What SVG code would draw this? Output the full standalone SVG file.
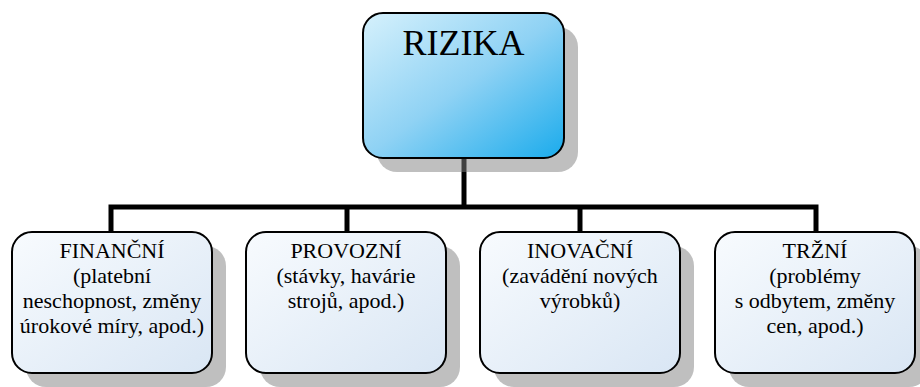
<svg xmlns="http://www.w3.org/2000/svg" width="920" height="387" viewBox="0 0 920 387">
<defs>
<linearGradient id="gTop" x1="0" y1="0" x2="1" y2="1">
<stop offset="0" stop-color="#d6f1fc"/>
<stop offset="0.5" stop-color="#8fd2f4"/>
<stop offset="1" stop-color="#1aabec"/>
</linearGradient>
<linearGradient id="gBox" x1="0" y1="0" x2="1" y2="1">
<stop offset="0" stop-color="#f8fbfe"/>
<stop offset="1" stop-color="#d9e6f4"/>
</linearGradient>
</defs>
<style>
.sh{fill:#808080;fill-opacity:0.5}
.box{fill:url(#gBox);stroke:#000;stroke-width:2}
.top{fill:url(#gTop);stroke:#000;stroke-width:2}
.conn{fill:none;stroke:#000;stroke-width:5}
.t{font-family:Liberation Serif,Tinos,Times New Roman,serif;font-size:22px;fill:#000;text-anchor:middle}
.big{font-family:Liberation Serif,Tinos,Times New Roman,serif;font-size:36px;fill:#000;text-anchor:middle}
</style>
<g id="connectors">
<path class="conn" d="M464 158 V207"/>
<path class="conn" d="M111 232 V207 H816 V232"/>
<path class="conn" d="M347 207 V232"/>
<path class="conn" d="M580 207 V232"/>
</g>
<g id="shadows">
<rect class="sh" x="377" y="27" width="201" height="145" rx="20"/>
<rect class="sh" x="26" y="246" width="200" height="141" rx="20"/>
<rect class="sh" x="260" y="246" width="200" height="141" rx="20"/>
<rect class="sh" x="494" y="246" width="200" height="141" rx="20"/>
<rect class="sh" x="729" y="246" width="200" height="141" rx="20"/>
</g>
<g id="rizika">
<rect class="top" x="363" y="13" width="201" height="145" rx="20"/>
<text class="big" x="463.5" y="55" font-family="Liberation Serif">RIZIKA</text>
</g>
<g id="financni">
<rect class="box" x="12" y="232" width="200" height="141" rx="20"/>
<text class="t" x="112" y="258">FINANČNÍ</text>
<text class="t" x="112" y="283">(platební</text>
<text class="t" x="112" y="308">neschopnost, změny</text>
<text class="t" x="112" y="333">úrokové míry, apod.)</text>
</g>
<g id="provozni">
<rect class="box" x="246" y="232" width="200" height="141" rx="20"/>
<text class="t" x="346" y="258">PROVOZNÍ</text>
<text class="t" x="346" y="283">(stávky, havárie</text>
<text class="t" x="346" y="308">strojů, apod.)</text>
</g>
<g id="inovacni">
<rect class="box" x="480" y="232" width="200" height="141" rx="20"/>
<text class="t" x="580" y="258">INOVAČNÍ</text>
<text class="t" x="580" y="283">(zavádění nových</text>
<text class="t" x="580" y="308">výrobků)</text>
</g>
<g id="trzni">
<rect class="box" x="715" y="232" width="200" height="141" rx="20"/>
<text class="t" x="815" y="258">TRŽNÍ</text>
<text class="t" x="815" y="283">(problémy</text>
<text class="t" x="815" y="308">s odbytem, změny</text>
<text class="t" x="815" y="333">cen, apod.)</text>
</g>
</svg>
